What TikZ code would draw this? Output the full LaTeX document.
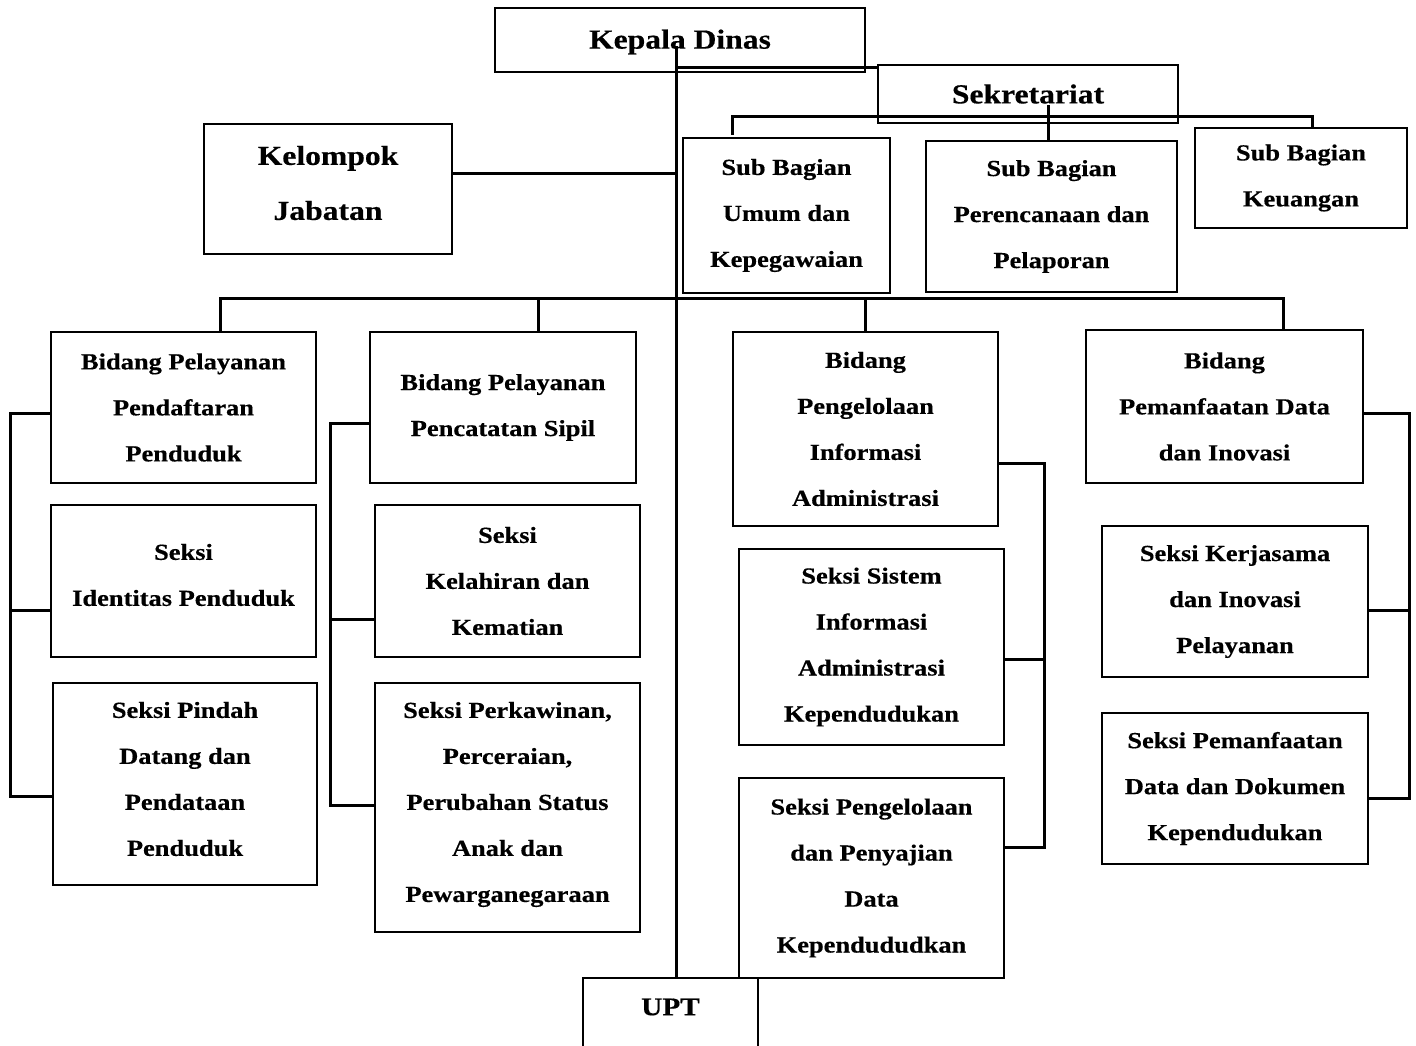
\documentclass[tikz,border=0pt]{standalone}
\usepackage{fontspec}
\setmainfont[FakeStretch=1.15, BoldFeatures={FakeBold=0.4}]{Liberation Serif}
\begin{document}
\begin{tikzpicture}[x=1pt,y=-1pt,
  box/.style={draw, line width=1.6pt, inner sep=0pt, outer sep=0pt, align=center,
    font=\bfseries\fontsize{23}{46}\selectfont},
  bigbox/.style={box, font=\bfseries\fontsize{27.5}{55}\selectfont},
  txt/.style={inner sep=0pt, align=center, font=\bfseries\fontsize{23}{46}\selectfont},
  bigtxt/.style={txt, font=\bfseries\fontsize{27.5}{55}\selectfont},
  conn/.style={line width=3pt}]
\useasboundingbox[fill=white] (0,0) rectangle (1416,1046);

% top level
\node[bigbox, minimum width=370, minimum height=64,
  label={[bigtxt, yshift=-2pt]center:Kepala Dinas}] (kepala) at (680,40) {};
\node[bigbox, minimum width=300, minimum height=58] (sekret) at (1028,94) {Sekretariat};
\node[bigbox, minimum width=248, minimum height=130,
  label={[bigtxt, yshift=6pt]center:{Kelompok\\Jabatan}}] (kelompok) at (328,189) {};

% sub bagian
\node[box, minimum width=207, minimum height=155] (umum) at (786.5,215.5) {Sub Bagian\\Umum dan\\Kepegawaian};
\node[box, minimum width=251, minimum height=151] (perenc) at (1051.5,216.5) {Sub Bagian\\Perencanaan dan\\Pelaporan};
\node[box, minimum width=212, minimum height=100] (keuangan) at (1301,178) {Sub Bagian\\Keuangan};

% bidang column 1
\node[box, minimum width=265, minimum height=151] (pendaft) at (183.5,407.5) {Bidang Pelayanan\\Pendaftaran\\Penduduk};
\node[box, minimum width=265, minimum height=152,
  label={[txt, yshift=6pt]center:{Seksi\\Identitas Penduduk}}] (identitas) at (183.5,581) {};
\node[box, minimum width=264, minimum height=202,
  label={[txt, yshift=5pt]center:{Seksi Pindah\\Datang dan\\Pendataan\\Penduduk}}] (pindah) at (185,784) {};

% bidang column 2
\node[box, minimum width=266, minimum height=151] (pencat) at (503,407.5) {Bidang Pelayanan\\Pencatatan Sipil};
\node[box, minimum width=265, minimum height=152] (kelahiran) at (507.5,581) {Seksi\\Kelahiran dan\\Kematian};
\node[box, minimum width=265, minimum height=249,
  label={[txt, yshift=3pt]center:{Seksi Perkawinan,\\Perceraian,\\Perubahan Status\\Anak dan\\Pewarganegaraan}}] (perkawinan) at (507.5,807.5) {};

% bidang column 3
\node[box, minimum width=265, minimum height=194] (pia) at (865.5,429) {Bidang\\Pengelolaan\\Informasi\\Administrasi};
\node[box, minimum width=265, minimum height=196] (sistem) at (871.5,647) {Seksi Sistem\\Informasi\\Administrasi\\Kependudukan};
\node[box, minimum width=265, minimum height=200] (penyajian) at (871.5,878) {Seksi Pengelolaan\\dan Penyajian\\Data\\Kependududkan};

% bidang column 4
\node[box, minimum width=277, minimum height=153] (pemanf) at (1224.5,406.5) {Bidang\\Pemanfaatan Data\\dan Inovasi};
\node[box, minimum width=266, minimum height=151] (kerjasama) at (1235,601.5) {Seksi Kerjasama\\dan Inovasi\\Pelayanan};
\node[box, minimum width=266, minimum height=151] (dokumen) at (1235,788.5) {Seksi Pemanfaatan\\Data dan Dokumen\\Kependudukan};

% UPT (open at the bottom, cut by the page)
\node[box, draw=none, minimum width=175, minimum height=58,
  font=\bfseries\fontsize{25.5}{46}\selectfont] (upt) at (670.5,1007) {UPT};
\draw[line width=1.6pt] (upt.north west) ++(0,90) -- (upt.north west) -- (upt.north east) -- ++(0,90);

% junction coordinates
\coordinate (kd) at (676,46);
\coordinate (sj) at (878,68);
\coordinate (sv) at (1048,105);
\coordinate (sbL) at (732,117);
\coordinate (sbR) at (1312,117);
\coordinate (sbT) at (732,135);
\coordinate (kj) at (676,173);
\coordinate (busL) at (220,298);
\coordinate (busR) at (1283,298);
\coordinate (b2) at (538,298);
\coordinate (b3) at (865,298);
\coordinate (l1t) at (10,413);
\coordinate (l1m) at (10,610);
\coordinate (l1b) at (10,796);
\coordinate (l2t) at (330,423);
\coordinate (l2m) at (330,619);
\coordinate (l2b) at (330,805);
\coordinate (r1t) at (1044,463);
\coordinate (r1m) at (1044,659);
\coordinate (r1b) at (1044,847);
\coordinate (r2t) at (1409,413);
\coordinate (r2m) at (1409,610);
\coordinate (r2b) at (1409,798);

% connectors
\draw[conn] (kd) -- (kd |- upt.north);
\draw[conn] (kd |- sj) -- (sj);
\draw[conn] (sv) -- (sv |- perenc.north);
\draw[conn] (sbT) -- (sbL) -- (sbR) -- (sbR |- keuangan.north);
\draw[conn] (kelompok.east |- kj) -- (kj);
\draw[conn] (busL |- pendaft.north) -- (busL) -- (busR) -- (busR |- pemanf.north);
\draw[conn] (b2) -- (b2 |- pencat.north);
\draw[conn] (b3) -- (b3 |- pia.north);

\draw[conn] (pendaft.west |- l1t) -- (l1t) -- (l1b) -- (pindah.west |- l1b);
\draw[conn] (l1m) -- (identitas.west |- l1m);
\draw[conn] (pencat.west |- l2t) -- (l2t) -- (l2b) -- (perkawinan.west |- l2b);
\draw[conn] (l2m) -- (kelahiran.west |- l2m);
\draw[conn] (pia.east |- r1t) -- (r1t) -- (r1b) -- (penyajian.east |- r1b);
\draw[conn] (r1m) -- (sistem.east |- r1m);
\draw[conn] (pemanf.east |- r2t) -- (r2t) -- (r2b) -- (dokumen.east |- r2b);
\draw[conn] (r2m) -- (kerjasama.east |- r2m);
\end{tikzpicture}
\end{document}
